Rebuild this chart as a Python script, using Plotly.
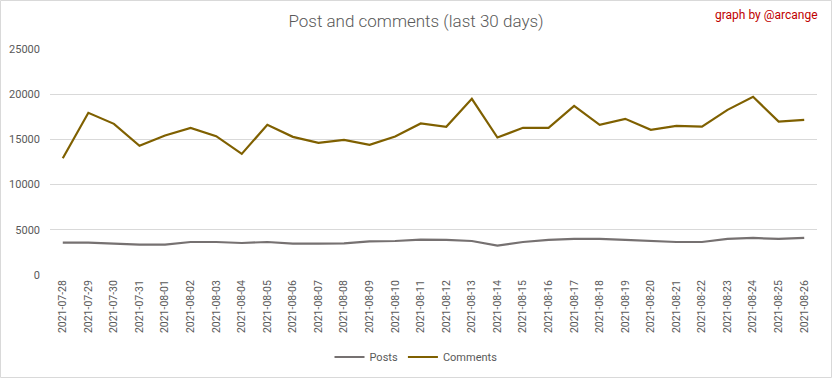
import plotly.graph_objects as go

dates = ["2021-07-28", "2021-07-29", "2021-07-30", "2021-07-31", "2021-08-01", "2021-08-02",
         "2021-08-03", "2021-08-04", "2021-08-05", "2021-08-06", "2021-08-07", "2021-08-08",
         "2021-08-09", "2021-08-10", "2021-08-11", "2021-08-12", "2021-08-13", "2021-08-14",
         "2021-08-15", "2021-08-16", "2021-08-17", "2021-08-18", "2021-08-19", "2021-08-20",
         "2021-08-21", "2021-08-22", "2021-08-23", "2021-08-24", "2021-08-25", "2021-08-26"]

posts = [3580, 3580, 3470, 3360, 3360, 3650, 3650, 3540, 3650, 3470, 3470, 3500,
         3730, 3760, 3910, 3880, 3760, 3250, 3650, 3880, 3990, 3990, 3880, 3765,
         3650, 3650, 3990, 4100, 3990, 4100]

comments = [12920, 17940, 16720, 14290, 15430, 16280, 15360, 13400, 16610, 15280, 14620, 14950,
            14400, 15320, 16760, 16390, 19490, 15210, 16280, 16280, 18715, 16610, 17275, 16060,
            16500, 16420, 18270, 19710, 16980, 17165]

y_ticks = [0, 5000, 10000, 15000, 20000, 25000]

FONT = "Roboto, Arial, sans-serif"

L, R, T, B = 50, 15, 49, 103
PW, PH = 832 - L - R, 378 - T - B


def px(x):
    return (x - L) / PW


def py(y):
    return (378 - B - y) / PH


fig = go.Figure()
fig.add_trace(go.Scatter(x=dates, y=posts, mode="lines", name="Posts",
                         line=dict(color="#767171", width=2.2)))
fig.add_trace(go.Scatter(x=dates, y=comments, mode="lines", name="Comments",
                         line=dict(color="#7F6000", width=2.2)))

fig.update_layout(
    width=832, height=378,
    margin=dict(l=L, r=R, t=T, b=B, autoexpand=False),
    paper_bgcolor="white", plot_bgcolor="white",
    font=dict(family=FONT, color="#595959", size=11),
    title=dict(text="Post and comments (last 30 days)", x=px(416), xanchor="center",
               xref="paper", y=1 - 21 / 378, yanchor="middle",
               font=dict(family=FONT, size=17, color="#595959", weight=300)),
    showlegend=True,
    legend=dict(orientation="h", x=px(416), xanchor="center", y=py(357), yanchor="middle",
                font=dict(family=FONT, size=11, color="#595959"),
                bgcolor="rgba(0,0,0,0)", itemwidth=30, tracegroupgap=0),
    xaxis=dict(type="category", range=[-0.5, 29.5], tickangle=-90, automargin=False,
               showgrid=False, showline=False, zeroline=False, ticks="",
               ticklabelstandoff=2,
               tickfont=dict(family=FONT, size=10.5, color="#595959")),
    yaxis=dict(range=[0, 25000], tickvals=y_ticks, ticktext=[str(v) for v in y_ticks],
               showgrid=True, gridcolor="#D9D9D9", gridwidth=1, zeroline=False,
               showline=False, ticks="", ticklabelstandoff=9, automargin=False,
               tickfont=dict(family=FONT, size=11, color="#595959")),
    annotations=[dict(text="graph by @arcange", xref="paper", yref="paper",
                      x=px(820), y=py(15), xanchor="right", yanchor="middle",
                      showarrow=False, font=dict(family=FONT, size=12, color="#C00000"))],
    shapes=[dict(type="rect", xref="paper", yref="paper",
                 x0=px(0.5), x1=px(831.5), y0=py(377.5), y1=py(0.5),
                 line=dict(color="#D9D9D9", width=1), fillcolor="rgba(0,0,0,0)", layer="below")],
)

fig.write_html(
    "out.html",
    config={"displayModeBar": False},
    post_script="document.body.style.margin='0';document.body.style.padding='0';"
                "document.body.style.overflow='hidden';",
)
